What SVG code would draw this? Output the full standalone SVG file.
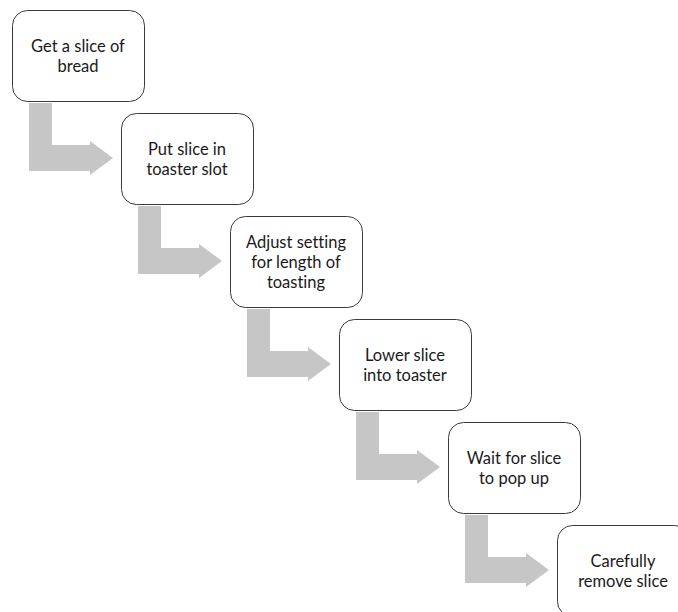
<svg xmlns="http://www.w3.org/2000/svg" width="678" height="612" viewBox="0 0 678 612">
  <style>
    .box { fill: #ffffff; stroke: #3a3a3a; stroke-width: 1; }
    .lbl { font-family: Lato, "Open Sans", "Liberation Sans", sans-serif; font-size: 16.5px; fill: #1a1a1a; text-anchor: middle; font-variant-ligatures: none; }
    .bend { fill: #c6c6c6; stroke: none; }
  </style>
  <defs>
    <!-- L-shaped bent arrow, origin at the source box's top-left corner -->
    <path id="bentArrow" d="M17,93 H40 V135 H78 V131 L101,148 L78,165 V161 H17 Z"/>
  </defs>
  <rect width="678" height="612" fill="#ffffff"/>

  <g id="connectors">
    <use href="#bentArrow" class="bend" transform="translate(12,10)"/>
    <use href="#bentArrow" class="bend" transform="translate(121,113)"/>
    <use href="#bentArrow" class="bend" transform="translate(230,216)"/>
    <use href="#bentArrow" class="bend" transform="translate(339,319)"/>
    <use href="#bentArrow" class="bend" transform="translate(448,422)"/>
  </g>

  <g id="step1">
    <rect class="box" x="12.5" y="10.5" width="132" height="91" rx="15"/>
    <text class="lbl" x="78" y="52">Get a slice of</text>
    <text class="lbl" x="78" y="72">bread</text>
  </g>
  <g id="step2">
    <rect class="box" x="121.5" y="113.5" width="132" height="91" rx="15"/>
    <text class="lbl" x="187" y="155">Put slice in</text>
    <text class="lbl" x="187" y="175">toaster slot</text>
  </g>
  <g id="step3">
    <rect class="box" x="230.5" y="216.5" width="132" height="91" rx="15"/>
    <text class="lbl" x="296" y="248">Adjust setting</text>
    <text class="lbl" x="296" y="268">for length of</text>
    <text class="lbl" x="296" y="288">toasting</text>
  </g>
  <g id="step4">
    <rect class="box" x="339.5" y="319.5" width="132" height="91" rx="15"/>
    <text class="lbl" x="405" y="361">Lower slice</text>
    <text class="lbl" x="405" y="381">into toaster</text>
  </g>
  <g id="step5">
    <rect class="box" x="448.5" y="422.5" width="132" height="91" rx="15"/>
    <text class="lbl" x="514" y="464">Wait for slice</text>
    <text class="lbl" x="514" y="484">to pop up</text>
  </g>
  <g id="step6">
    <rect class="box" x="557.5" y="525.5" width="132" height="91" rx="15"/>
    <text class="lbl" x="623" y="567">Carefully</text>
    <text class="lbl" x="623" y="587">remove slice</text>
  </g>
</svg>
